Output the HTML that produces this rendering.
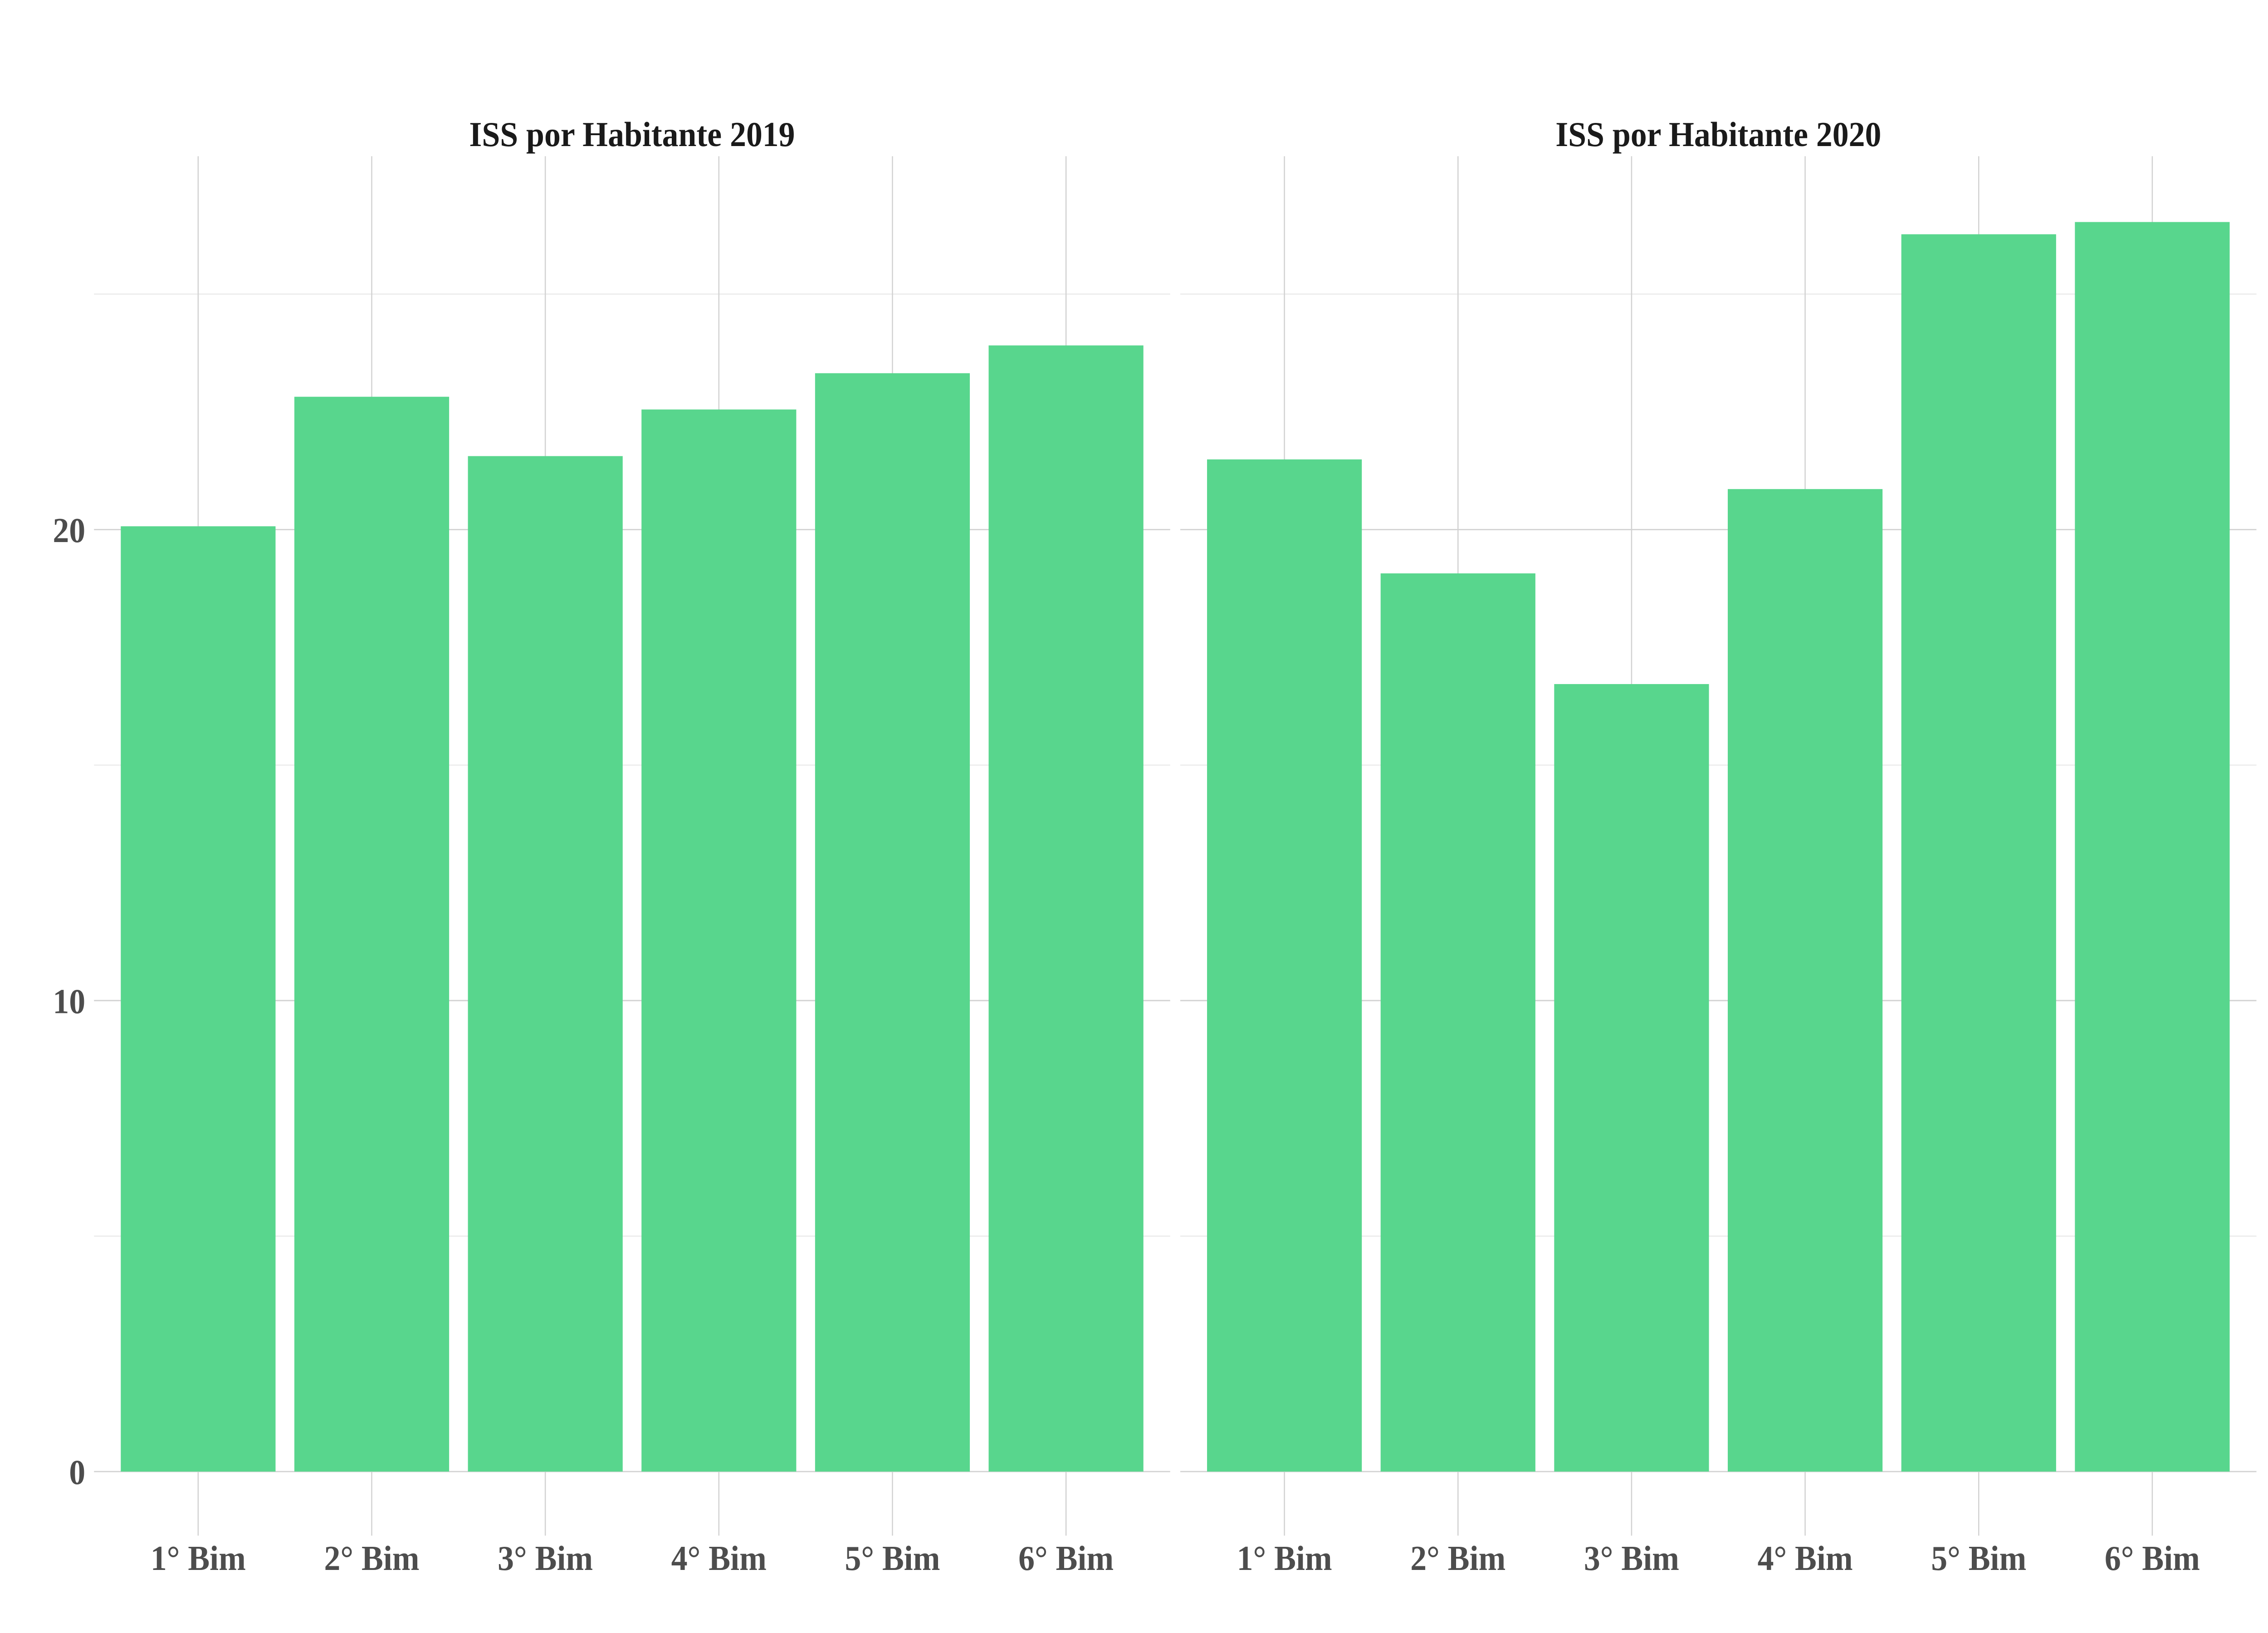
<!DOCTYPE html>
<html><head><meta charset="utf-8"><style>
html,body{margin:0;padding:0;background:#fff;width:100%;height:100%;overflow:hidden}
svg{display:block;width:100vw;height:100vh}
text{font-family:"Liberation Serif",serif;font-weight:bold}
</style></head><body>
<svg id="chart" viewBox="0 0 1568 1045.33" preserveAspectRatio="none" xmlns="http://www.w3.org/2000/svg"></svg>
<script>
const categories = ["1° Bim","2° Bim","3° Bim","4° Bim","5° Bim","6° Bim"];
const panelTitles = ["ISS por Habitante 2019","ISS por Habitante 2020"];
const values2019 = [20.07, 22.82, 21.56, 22.55, 23.32, 23.91];
const values2020 = [21.49, 19.07, 16.72, 20.86, 26.27, 26.53];
const majorTicks = [0, 10, 20];
const minorTicks = [5, 15, 25];

const NS = "http://www.w3.org/2000/svg";
const svg = document.getElementById("chart");
const y0 = 942, pxPerUnit = 30.15;
function yScale(v){ return y0 - v * pxPerUnit; }
const panels = [{left:65, right:809, data:values2019},{left:816, right:1560, data:values2020}];
function xScale(p, i){ return p.left + (0.6 + i) * 120; }
function mk(tag, attrs){ const e = document.createElementNS(NS, tag); for (const k in attrs) e.setAttribute(k, attrs[k]); svg.appendChild(e); return e; }

panels.forEach((p, pi) => {
  minorTicks.forEach(t => {
    const l = mk("line", {x1:p.left, x2:p.right, y1:yScale(t), y2:yScale(t), stroke:"#e6e6e6", "stroke-width":0.6});
    
    
  });
  majorTicks.forEach(t => {
    const l = mk("line", {x1:p.left, x2:p.right, y1:yScale(t), y2:yScale(t), stroke:"#d2d2d2", "stroke-width":0.8});
    
    
  });
  categories.forEach((c, i) => {
    const l = mk("line", {x1:xScale(p,i), x2:xScale(p,i), y1:100, y2:983, stroke:"#d2d2d2", "stroke-width":0.8});
    
    
  });
  const title = mk("text", {x:(p.left+p.right)/2, y:93.5, "text-anchor":"middle", "font-size":"22.5", fill:"#1a1a1a"});
  title.textContent = panelTitles[pi];
  
  
  p.data.forEach((v, i) => {
    const b = mk("rect", {x:xScale(p,i)-53.5, y:yScale(v), width:107, height:yScale(0)-yScale(v), fill:"#58d68d"});
    
    
  });
  categories.forEach((c, i) => {
    const t = mk("text", {x:xScale(p,i), y:1005, "text-anchor":"middle", "font-size":"22.5", fill:"#4d4d4d"});
    t.textContent = c;
    
    
  });
});
majorTicks.forEach(t => {
  const tx = mk("text", {x:59, y:yScale(t)+8, "text-anchor":"end", "font-size":"22.5", fill:"#4d4d4d"});
  tx.textContent = String(t);
  
  
});
</script>
</body></html>
